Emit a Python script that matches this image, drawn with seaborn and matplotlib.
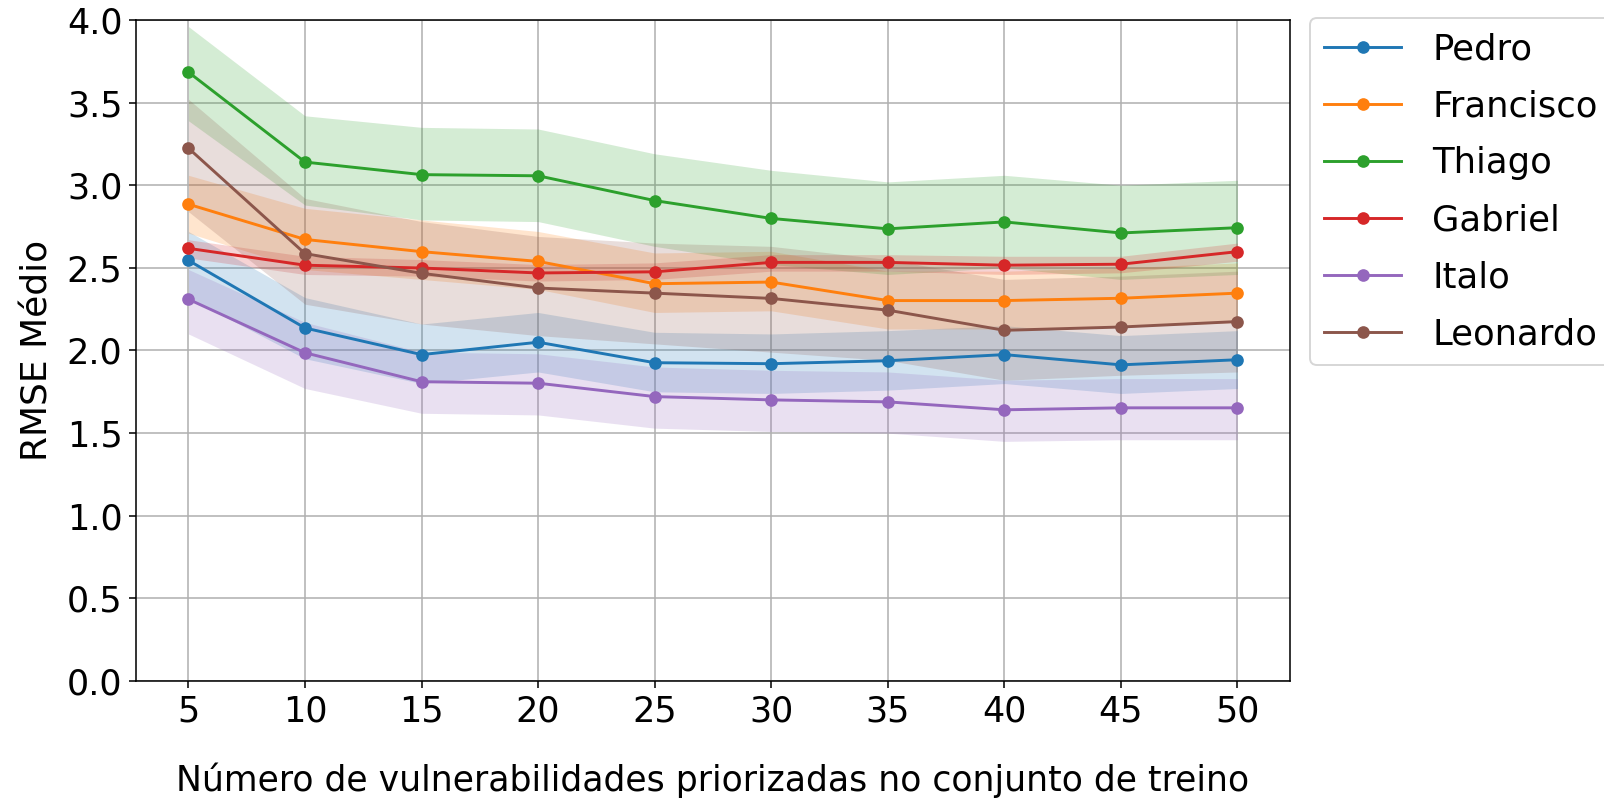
import matplotlib
matplotlib.use("Agg")
import matplotlib.pyplot as plt
import seaborn as sns
import numpy as np

# Number of prioritized vulnerabilities in the training set
n_vuln = [5, 10, 15, 20, 25, 30, 35, 40, 45, 50]

names = ["Pedro", "Francisco", "Thiago", "Gabriel", "Italo", "Leonardo"]

# Mean RMSE per participant
pedro = [2.545, 2.136, 1.975, 2.050, 1.926, 1.920, 1.938, 1.975, 1.913, 1.944]
francisco = [2.885, 2.672, 2.598, 2.539, 2.404, 2.414, 2.302, 2.302, 2.316, 2.347]
thiago = [3.684, 3.140, 3.064, 3.057, 2.907, 2.799, 2.736, 2.778, 2.711, 2.743]
gabriel = [2.618, 2.516, 2.499, 2.469, 2.476, 2.533, 2.533, 2.516, 2.522, 2.598]
italo = [2.310, 1.986, 1.811, 1.802, 1.721, 1.701, 1.689, 1.641, 1.653, 1.653]
leonardo = [3.224, 2.586, 2.467, 2.378, 2.347, 2.315, 2.244, 2.122, 2.142, 2.175]

# Lower / upper limits of the shaded spread around each mean
pedro_lo = [2.32, 1.95, 1.80, 1.87, 1.75, 1.74, 1.76, 1.80, 1.74, 1.77]
pedro_hi = [2.72, 2.32, 2.16, 2.23, 2.11, 2.10, 2.12, 2.15, 2.09, 2.12]
francisco_lo = [2.71, 2.49, 2.43, 2.37, 2.23, 2.24, 2.13, 2.13, 2.14, 2.17]
francisco_hi = [3.06, 2.86, 2.79, 2.72, 2.59, 2.60, 2.48, 2.48, 2.50, 2.53]
thiago_lo = [3.39, 2.88, 2.79, 2.78, 2.63, 2.52, 2.46, 2.50, 2.43, 2.46]
thiago_hi = [3.96, 3.42, 3.35, 3.34, 3.19, 3.09, 3.02, 3.06, 3.00, 3.03]
gabriel_lo = [2.56, 2.46, 2.45, 2.42, 2.43, 2.48, 2.48, 2.46, 2.47, 2.54]
gabriel_hi = [2.67, 2.57, 2.55, 2.52, 2.53, 2.58, 2.58, 2.57, 2.57, 2.65]
italo_lo = [2.10, 1.77, 1.62, 1.61, 1.53, 1.51, 1.50, 1.45, 1.46, 1.46]
italo_hi = [2.49, 2.17, 1.99, 1.98, 1.90, 1.88, 1.87, 1.82, 1.83, 1.83]
leonardo_lo = [2.84, 2.28, 2.16, 2.09, 2.04, 1.99, 1.94, 1.82, 1.85, 1.87]
leonardo_hi = [3.52, 2.92, 2.78, 2.69, 2.65, 2.63, 2.55, 2.43, 2.45, 2.48]

means = [pedro, francisco, thiago, gabriel, italo, leonardo]
lows = [pedro_lo, francisco_lo, thiago_lo, gabriel_lo, italo_lo, leonardo_lo]
highs = [pedro_hi, francisco_hi, thiago_hi, gabriel_hi, italo_hi, leonardo_hi]

y_ticks = [0.0, 0.5, 1.0, 1.5, 2.0, 2.5, 3.0, 3.5, 4.0]

colors = sns.color_palette("tab10", len(names))

DPI = 140
fig = plt.figure(figsize=(1604 / DPI, 798 / DPI), dpi=DPI)
ax = fig.add_axes([0.0848, 0.1466, 0.7194, 0.8284])

for name, m, lo, hi, c in zip(names, means, lows, highs, colors):
    sns.lineplot(x=n_vuln, y=m, ax=ax, color=c, label=name, marker="o",
                 markersize=6.5, markeredgewidth=0, linewidth=1.5)
    ax.fill_between(n_vuln, lo, hi, color=c, alpha=0.2, linewidth=0)

ax.set_ylim(0, 4)
ax.set_xticks(n_vuln)
ax.set_yticks(y_ticks)
ax.set_yticklabels([f"{t:.1f}" for t in y_ticks])
ax.grid(True, color="#b0b0b0", linewidth=0.8)
ax.set_axisbelow(True)
ax.tick_params(labelsize=18)

ax.set_ylabel("RMSE Médio", fontsize=18.5, labelpad=6)
ax.set_xlabel("Número de vulnerabilidades priorizadas no conjunto de treino",
              fontsize=17.8)
ax.xaxis.set_label_coords(0.5, -0.124)

ax.legend(loc="upper left", bbox_to_anchor=(1.0173, 1.003), borderaxespad=0,
          fontsize=18.2, labelspacing=0.65, handlelength=2.18,
          handletextpad=0.875, frameon=True)

fig.savefig("out.png", dpi=DPI)
